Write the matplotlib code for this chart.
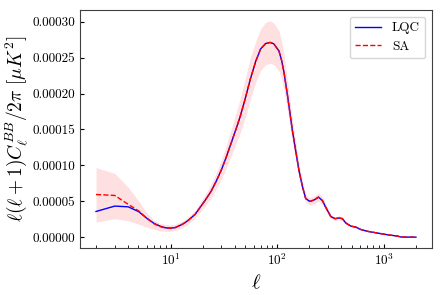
import numpy as np
import matplotlib
matplotlib.use('Agg')
import matplotlib.pyplot as plt
from matplotlib.ticker import FormatStrFormatter

plt.rcParams['font.family'] = 'serif'
plt.rcParams['font.serif'] = ['cmr10']
plt.rcParams['mathtext.fontset'] = 'cm'
plt.rcParams['axes.formatter.use_mathtext'] = True

# multipoles
ell = [2, 3, 4, 5, 6, 7, 8, 9, 10, 11, 12, 13, 14, 15, 17, 19, 21, 24, 27, 30,
       33, 37, 41, 45, 50, 56, 63, 70, 78, 86, 93, 104, 110, 116, 125, 134,
       139, 149, 160, 173, 185, 202, 222, 244, 266, 285, 318, 349, 380, 409,
       440, 490, 546, 608, 700, 873, 1100, 1346, 1445, 2000]

# D_ell^BB in units of 1e-5 muK^2
lqc = [3.6, 4.35, 4.25, 3.6, 2.65, 1.95, 1.55, 1.33, 1.29, 1.35, 1.6, 1.85,
       2.15, 2.5, 3.2, 4.2, 5.1, 6.4, 7.9, 9.4, 11.0, 13.1, 15.0, 16.8, 19.2,
       22.0, 24.5, 26.2, 26.95, 27.1, 26.9, 25.9, 24.6, 22.9, 19.7, 16.5,
       14.8, 12.1, 9.3, 7.0, 5.4, 5.0, 5.2, 5.6, 5.1, 4.2, 2.9, 2.6, 2.7, 2.6,
       2.0, 1.57, 1.43, 1.1, 0.85, 0.6, 0.35, 0.18, 0.05, 0.03]
sa = [5.96, 5.83, 4.6, 3.7, 2.65, 1.9, 1.5, 1.3, 1.27, 1.35, 1.6, 1.85,
      2.15, 2.5, 3.2, 4.2, 5.1, 6.4, 7.9, 9.4, 11.0, 13.1, 15.0, 16.8, 19.2,
      22.0, 24.5, 26.2, 26.95, 27.1, 26.9, 25.9, 24.6, 22.9, 19.7, 16.5,
      14.8, 12.1, 9.3, 7.0, 5.4, 5.0, 5.2, 5.6, 5.1, 4.2, 2.9, 2.6, 2.7, 2.6,
      2.0, 1.57, 1.43, 1.1, 0.85, 0.6, 0.35, 0.18, 0.05, 0.03]
upper = [9.7, 8.9, 7.0, 5.1, 3.4, 2.4, 1.95, 1.8, 1.75, 1.8, 2.05, 2.3, 2.6,
         3.0, 3.75, 4.9, 5.9, 7.4, 9.1, 10.8, 12.6, 15.0, 17.2, 19.3, 22.0,
         25.0, 27.3, 29.0, 29.9, 30.1, 29.8, 28.7, 27.3, 25.4, 21.8, 18.3,
         16.4, 13.4, 10.3, 7.7, 6.0, 5.5, 5.75, 6.2, 5.65, 4.65, 3.2, 2.85,
         3.0, 2.85, 2.2, 1.73, 1.58, 1.21, 0.94, 0.66, 0.39, 0.2, 0.055, 0.033]
lower = [2.1, 2.6, 2.3, 1.85, 1.4, 1.1, 0.9, 0.85, 0.85, 0.95, 1.15, 1.35,
         1.65, 2.0, 2.65, 3.55, 4.3, 5.5, 6.8, 8.1, 9.5, 11.3, 13.0, 14.5,
         16.6, 19.2, 21.6, 23.2, 24.0, 24.2, 24.0, 23.1, 22.0, 20.4, 17.6,
         14.7, 13.2, 10.8, 8.3, 6.3, 4.85, 4.5, 4.65, 5.0, 4.55, 3.75, 2.6,
         2.35, 2.4, 2.35, 1.8, 1.41, 1.28, 0.99, 0.77, 0.54, 0.31, 0.16, 0.045,
         0.027]

scale = 1e-5
ell = np.array(ell)
lqc = np.array(lqc) * scale
sa = np.array(sa) * scale
upper = np.array(upper) * scale
lower = np.array(lower) * scale

fig = plt.figure(figsize=(4.43, 2.95), dpi=100)
ax = fig.add_axes([0.1806, 0.1593, 0.7944, 0.8067])

ax.fill_between(ell, lower, upper, color='red', alpha=0.12, linewidth=0)
ax.plot(ell, lqc, 'b-', lw=1.0, label='LQC')
ax.plot(ell, sa, 'r--', lw=1.0, label='SA')

ax.set_xscale('log')
ax.set_yticks(np.arange(0, 0.00031, 0.00005))
ax.yaxis.set_major_formatter(FormatStrFormatter('%.5f'))
ax.tick_params(direction='in', which='both', labelsize=9.5, length=3)
ax.tick_params(which='minor', length=2.5)

ax.set_xlabel(r'$\ell$', fontsize=15)
ax.set_ylabel(r'$\ell(\ell+1)C_\ell^{BB}/2\pi\ [\mu K^2]$', fontsize=14,
              labelpad=2)
ax.legend(loc='upper right', fontsize=9.5)

for s in ax.spines.values():
    s.set_color('0.25')

fig.savefig('out.png', dpi=100)
